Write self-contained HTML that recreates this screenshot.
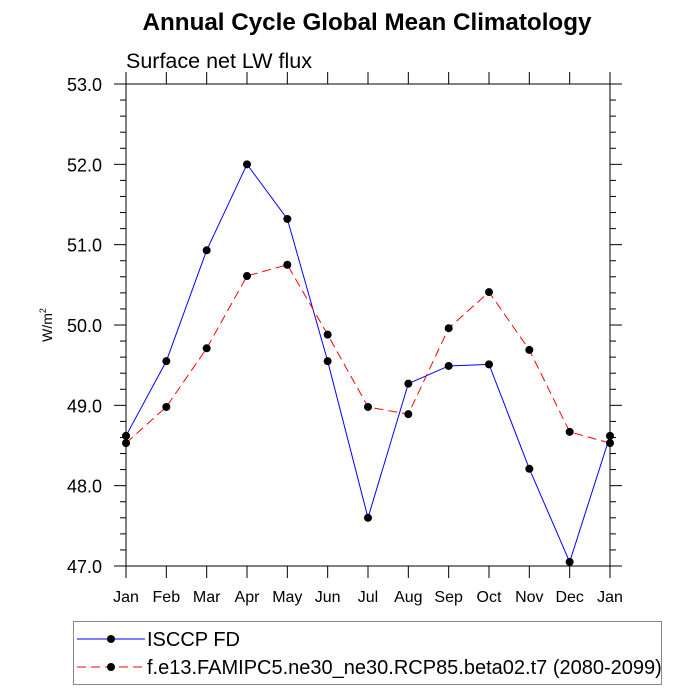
<!DOCTYPE html>
<html><head><meta charset="utf-8"><style>
body{margin:0;background:#fff}
svg{display:block;font-family:"Liberation Sans",sans-serif}
</style></head><body>
<svg id="c" width="700" height="700">
<text x="367" y="30" text-anchor="middle" font-size="24.2" font-weight="bold">Annual Cycle Global Mean Climatology</text>
<text x="126" y="68" font-size="21.5">Surface net LW flux</text>
<text transform="translate(52,325) rotate(-90)" text-anchor="middle" font-size="14">W/m<tspan dy="-6" font-size="9">2</tspan></text>
<g id="axes"></g>
<g id="series"></g>
<g>
<rect x="73.5" y="621.5" width="588" height="63" fill="none" stroke="#888" stroke-width="1"/>
<g>
<line x1="77" y1="639" x2="145" y2="639" stroke="#0000ff" stroke-width="1"/>
<circle cx="111" cy="639" r="4" fill="#000"/>
<text x="147" y="646" font-size="20">ISCCP FD</text></g>
<g>
<line x1="77" y1="667" x2="145" y2="667" stroke="#ff0000" stroke-width="1" stroke-dasharray="9,5"/>
<circle cx="111" cy="667" r="4" fill="#000"/>
<text x="147" y="674" font-size="20">f.e13.FAMIPC5.ne30_ne30.RCP85.beta02.t7 (2080-2099)</text></g>
</g>
</svg>
<script>
const months=["Jan","Feb","Mar","Apr","May","Jun","Jul","Aug","Sep","Oct","Nov","Dec","Jan"];
const isccp=[48.62,49.55,50.93,52.0,51.32,49.55,47.6,49.27,49.49,49.51,48.21,47.05,48.62];
const model=[48.53,48.98,49.71,50.61,50.75,49.88,48.98,48.89,49.96,50.41,49.69,48.67,48.53];
const yTicks=[47,48,49,50,51,52,53];
const X0=126,X1=610,Y0=566,Y1=84,YMIN=47,YMAX=53;
const xs=i=>X0+(X1-X0)*i/(months.length-1);
const ys=v=>Y0-(v-YMIN)/(YMAX-YMIN)*(Y0-Y1);
const NS="http://www.w3.org/2000/svg";
function mk(t,a,p){const e=document.createElementNS(NS,t);for(const k in a)e.setAttribute(k,a[k]);p.appendChild(e);return e;}
const ax=document.getElementById('axes');
const fr=mk('rect',{x:X0,y:Y1,width:X1-X0,height:Y0-Y1,fill:'none',stroke:'#000','stroke-width':1},ax);


months.forEach((m,i)=>{const x=xs(i);
mk('line',{x1:x,y1:Y0,x2:x,y2:Y0+12,stroke:'#000'},ax);
mk('line',{x1:x,y1:Y1,x2:x,y2:Y1-12,stroke:'#000'},ax);
const t=mk('text',{x:x,y:602,'text-anchor':'middle','font-size':16},ax);t.textContent=m;

});
yTicks.forEach(v=>{const y=ys(v);
mk('line',{x1:X0-12,y1:y,x2:X0,y2:y,stroke:'#000'},ax);
mk('line',{x1:X1,y1:y,x2:X1+12,y2:y,stroke:'#000'},ax);
const t=mk('text',{x:102,y:y+7,'text-anchor':'end','font-size':18},ax);t.textContent=v.toFixed(1);


if(v<YMAX)for(let k=1;k<5;k++){const yy=ys(v+k*0.2);
mk('line',{x1:X0-6,y1:yy,x2:X0,y2:yy,stroke:'#000'},ax);
mk('line',{x1:X1,y1:yy,x2:X1+6,y2:yy,stroke:'#000'},ax);}});
const sg=document.getElementById('series');
function draw(d,col,dash,name){const g=mk('g',{},sg);


mk('polyline',{points:d.map((v,i)=>xs(i)+','+ys(v)).join(' '),fill:'none',stroke:col,'stroke-width':1,'stroke-dasharray':dash},g);
d.forEach((v,i)=>{const c=mk('circle',{cx:xs(i),cy:ys(v),r:4,fill:'#000'},g);

});}
draw(isccp,'#0000ff','none','series-isccp');
draw(model,'#ff0000','9,5','series-model');
</script>
</body></html>
